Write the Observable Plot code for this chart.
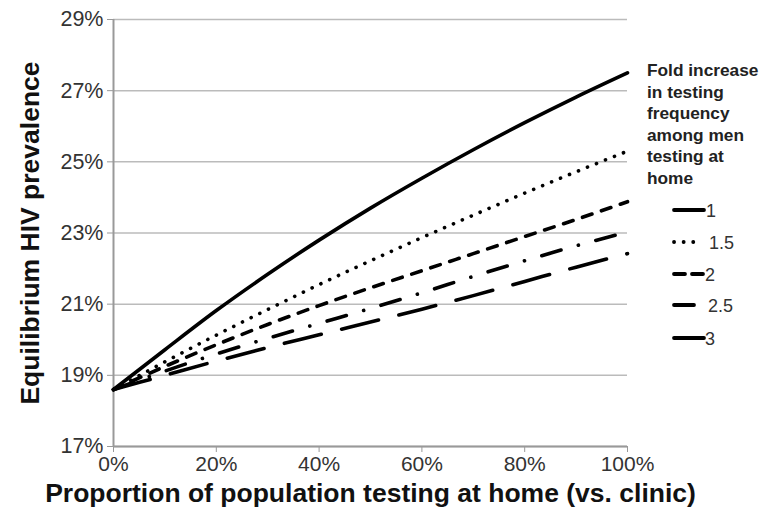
<!DOCTYPE html>
<html>
<head>
<meta charset="utf-8">
<script src="https://cdn.jsdelivr.net/npm/d3@7"></script>
<script src="https://cdn.jsdelivr.net/npm/@observablehq/plot@0.6"></script>
<style>
  html, body { margin: 0; padding: 0; background: #fff; }
  #wrap { position: relative; width: 765px; height: 517px; font-family: "Liberation Sans", Arial, Helvetica, sans-serif; }
  #legend { position: absolute; left: 0; top: 0; pointer-events: none; }
</style>
</head>
<body>
<div id="wrap"></div>
<script>
// Proportion of population testing at home (vs. clinic)
const proportion = [0, 0.1, 0.2, 0.3, 0.4, 0.5, 0.6, 0.7, 0.8, 0.9, 1.0];
// Equilibrium HIV prevalence by fold increase in testing frequency
const fold1   = [0.186, 0.1972, 0.2082, 0.2184, 0.228, 0.237, 0.2454, 0.2534, 0.261, 0.2682, 0.275];
const fold1_5 = [0.186, 0.1938, 0.2013, 0.2085, 0.2155, 0.2222, 0.2287, 0.235, 0.2412, 0.2472, 0.253];
const fold2   = [0.186, 0.1925, 0.1986, 0.2043, 0.2096, 0.2146, 0.2194, 0.2242, 0.229, 0.2338, 0.2388];
const fold2_5 = [0.186, 0.1912, 0.196, 0.2004, 0.2046, 0.2088, 0.2132, 0.2178, 0.2222, 0.2264, 0.2303];
const fold3   = [0.186, 0.190, 0.194, 0.1978, 0.2014, 0.205, 0.2086, 0.2124, 0.2164, 0.2204, 0.2242];
const seriesNames = ["1", "1.5", "2", "2.5", "3"];
const seriesValues = [fold1, fold1_5, fold2, fold2_5, fold3];
const yTicks = [0.17, 0.19, 0.21, 0.23, 0.25, 0.27, 0.29];
const xTicks = [0, 0.2, 0.4, 0.6, 0.8, 1.0];
const legendTitle = ["Fold increase", "in testing", "frequency", "among men", "testing at", "home"];
const xTitle = "Proportion of population testing at home (vs. clinic)";
const yTitle = "Equilibrium HIV prevalence";

const dashes = {"1": null, "1.5": "0.1,9.6", "2": "10,10", "2.5": "20,18,0.1,18", "3": "38,21"};

const rows = [];
seriesNames.forEach((name, i) => {
  proportion.forEach((p, j) => rows.push({series: name, x: p, y: seriesValues[i][j]}));
});

const fmt = d3.format(".0%");
const lineMarks = seriesNames.map(name => Plot.line(rows.filter(r => r.series === name), {
  x: "x", y: "y", stroke: "#000", strokeWidth: 3.6,
  strokeDasharray: dashes[name], strokeLinecap: "round", curve: "monotone-x"
}));

const chart = Plot.plot({
  width: 765, height: 517,
  marginLeft: 113, marginRight: 138, marginTop: 19, marginBottom: 71,
  style: {fontFamily: "'Liberation Sans', Arial, Helvetica, sans-serif", background: "#fff", color: "#333"},
  x: {domain: [0, 1]},
  y: {domain: [0.17, 0.29]},
  marks: [
    Plot.gridY(yTicks, {stroke: "#bbb", strokeOpacity: 1, strokeWidth: 1.5}),
    Plot.ruleX([0], {stroke: "#999", strokeWidth: 2}),
    Plot.ruleY([0.17], {stroke: "#999", strokeWidth: 2}),
    Plot.axisY(yTicks, {tickFormat: fmt, tickSize: 6, tickPadding: 4, stroke: "#999", fill: "#333", fontSize: 21.5, label: null}),
    Plot.axisX(xTicks, {tickFormat: fmt, tickSize: 6, tickPadding: 4, stroke: "#999", fill: "#333", fontSize: 21, label: null}),
    ...lineMarks,
    Plot.text([xTitle], {frameAnchor: "bottom", dy: 47, lineAnchor: "middle", textAnchor: "middle", fontSize: 26.5, fontWeight: "bold", fill: "#111"}),
    Plot.text([yTitle], {frameAnchor: "left", dx: -83, rotate: -90, textAnchor: "middle", lineAnchor: "middle", fontSize: 26.5, fontWeight: "bold", fill: "#111"})
  ]
});
const wrap = document.getElementById("wrap");
wrap.appendChild(chart);

// Legend overlay
const lg = d3.select(wrap).append("svg").attr("id", "legend").attr("width", 765).attr("height", 517)
  .style("font-family", "'Liberation Sans', Arial, Helvetica, sans-serif");
lg.selectAll("text.title").data(legendTitle).join("text")
  .attr("x", 647).attr("y", (d, i) => 76 + i * 21.5)
  .attr("font-size", 17.3).attr("font-weight", "bold").attr("fill", "#222").text(d => d);
const legendY = [210, 242, 274, 305, 338];
const sampleLen = {"1": 30, "1.5": 22, "2": 30, "2.5": 20, "3": 30};
const labelX = {"1": 706, "1.5": 709, "2": 705, "2.5": 708, "3": 705};
const legendDash = {"1": null, "1.5": "0.1,9.5", "2": "11,7", "2.5": null, "3": null};
seriesNames.forEach((name, i) => {
  const y = legendY[i];
  lg.append("line").attr("x1", 674).attr("x2", 674 + sampleLen[name]).attr("y1", y).attr("y2", y)
    .attr("stroke", "#000").attr("stroke-width", 3.8).attr("stroke-linecap", "round")
    .attr("stroke-dasharray", legendDash[name]);
  lg.append("text").attr("x", labelX[name]).attr("y", y + 7).attr("font-size", 18).attr("fill", "#333").text(name);
});
</script>
</body>
</html>
